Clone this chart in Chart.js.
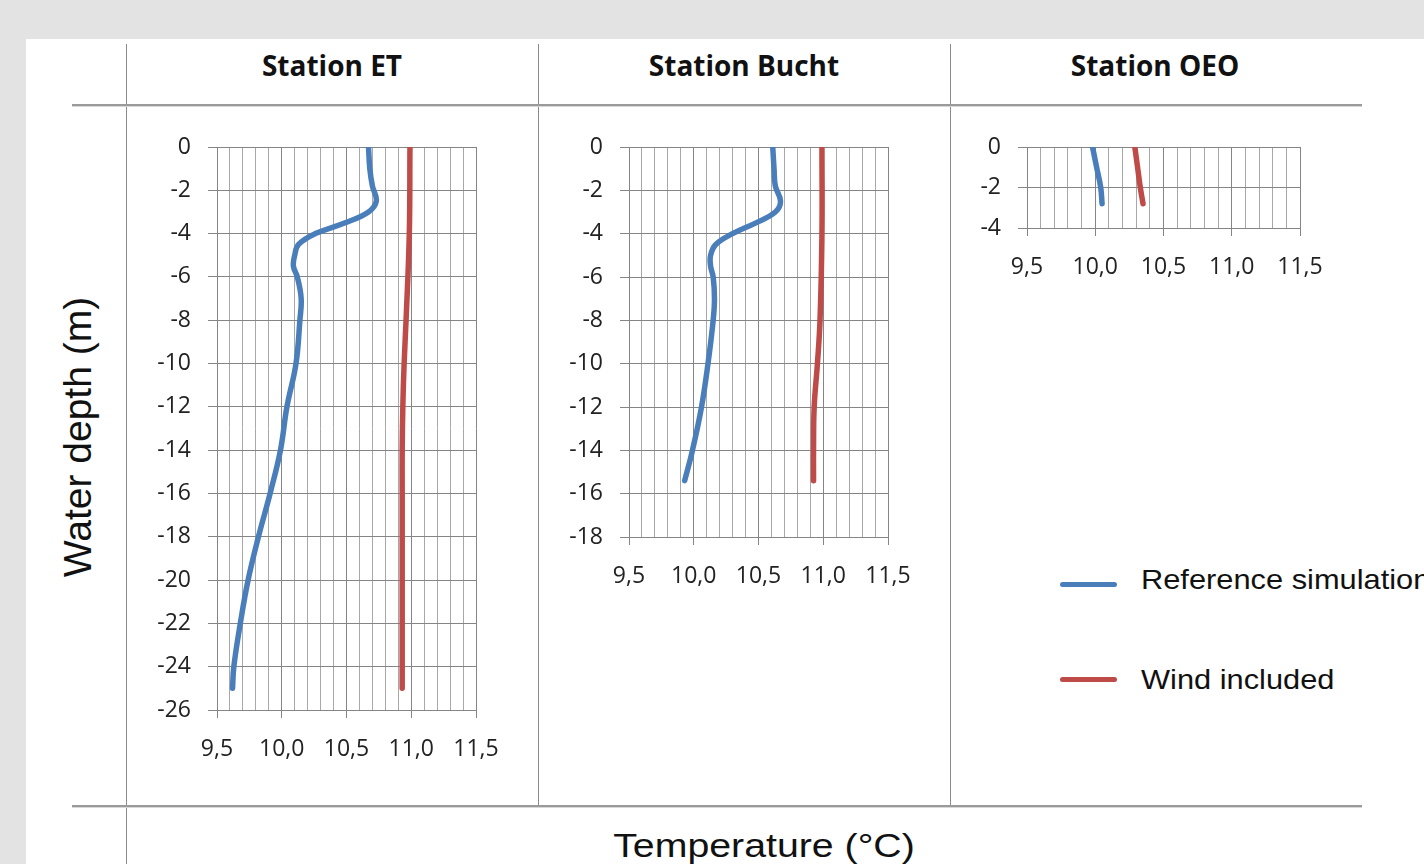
<!DOCTYPE html>
<html>
<head>
<meta charset="utf-8">
<script src="https://cdn.jsdelivr.net/npm/chart.js"></script>
<style>
  body { margin: 0; width: 1424px; height: 864px; background: #e3e3e3; overflow: hidden; position: relative; font-family: "Liberation Sans", Arial, sans-serif; }
  .panel { position: absolute; left: 26px; top: 39px; right: 0; bottom: 0; background: #fff; }
  .vline { position: absolute; width: 1px; background: #8a8a8a; }
  .hline { position: absolute; height: 2px; background: #9a9a9a; border-bottom: 1px solid #d8d8d8; }
  .title { position: absolute; top: 46px; width: 300px; text-align: center; font: bold 28px "Open Sans", sans-serif; color: #111; }
  .axisTitle { position: absolute; color: #111; white-space: nowrap; }
  .chartBox { position: absolute; }
  .legendItem { position: absolute; left: 1060px; height: 40px; white-space: nowrap; }
  .legendItem span.swatch { position: absolute; left: 0; width: 57px; height: 5px; border-radius: 3px; }
  .legendItem span.text { position: absolute; left: 81px; font-size: 28px; color: #111; transform-origin: left center; transform: scaleX(1.1); }
</style>
</head>
<body>
<div class="panel"></div>
<div class="vline" style="left:126px; top:44px; height:820px;"></div>
<div class="vline" style="left:538px; top:44px; height:762px;"></div>
<div class="vline" style="left:950px; top:44px; height:762px;"></div>
<div class="hline" style="left:72px; top:104px; width:1290px;"></div>
<div class="hline" style="left:72px; top:805px; width:1290px;"></div>

<div class="title" style="left:182px;">Station ET</div>
<div class="title" style="left:594px;">Station Bucht</div>
<div class="title" style="left:1005px;">Station OEO</div>

<div class="axisTitle" style="left:78px; top:437px; font-size:39px; transform: translate(-50%, -50%) rotate(-90deg);">Water depth (m)</div>
<div class="axisTitle" style="left:764px; top:846px; font-size:33px; transform: translate(-50%, -50%) scaleX(1.19);">Temperature (°C)</div>

<div class="legendItem" style="top:564px;"><span class="swatch" style="top:18px; background:#4a7ebb;"></span><span class="text" style="top:0;">Reference simulation</span></div>
<div class="legendItem" style="top:662px;"><span class="swatch" style="top:15px; background:#be4b48;"></span><span class="text" style="top:2px;">Wind included</span></div>

<script>
// x axis: temperature (°C), y axis: water depth (m)
const tempMin = 9.5;
const tempMax = 11.5;

// Station ET
const etRefDepth = [0, -1, -1.8, -2.5, -3, -3.5, -4, -4.5, -5, -5.5, -6, -7, -8, -10, -12, -14, -16, -18, -20, -22, -24, -25];
const etRefTemp = [10.67, 10.68, 10.70, 10.73, 10.67, 10.49, 10.26, 10.13, 10.10, 10.09, 10.12, 10.15, 10.14, 10.11, 10.04, 9.99, 9.91, 9.82, 9.74, 9.68, 9.63, 9.62];
const etWindDepth = [0, -4, -8, -10, -12, -14, -16, -20, -25];
const etWindTemp = [10.99, 10.985, 10.96, 10.945, 10.935, 10.93, 10.93, 10.93, 10.93];

// Station Bucht
const buchtRefDepth = [0, -1, -1.8, -2.5, -3, -3.5, -4, -4.5, -5, -5.5, -6, -7, -8, -10, -12, -14, -15.4];
const buchtRefTemp = [10.61, 10.62, 10.63, 10.67, 10.63, 10.48, 10.30, 10.17, 10.13, 10.13, 10.15, 10.16, 10.15, 10.11, 10.06, 9.99, 9.93];
const buchtWindDepth = [0, -4, -8, -10, -12, -14, -15.4];
const buchtWindTemp = [10.99, 10.99, 10.975, 10.955, 10.93, 10.925, 10.925];

// Station OEO
const oeoRefDepth = [0, -1, -2, -2.8];
const oeoRefTemp = [9.98, 10.01, 10.04, 10.05];
const oeoWindDepth = [0, -1, -2, -2.8];
const oeoWindTemp = [10.29, 10.31, 10.33, 10.35];

const blue = '#4a7ebb';
const red = '#be4b48';

const isMajor = (v) => Math.abs(v * 2 - Math.round(v * 2)) < 1e-6;
const fmt = (v) => v.toFixed(1).replace('.', ',');
const toPoints = (depth, temp) => depth.map((d, i) => ({ x: temp[i], y: d }));

const makeChart = (plotLeft, plotRight, plotBottom, depthMin, refDepth, refTemp, windDepth, windTemp) => {
  const yAxisW = 87;
  const xAxisH = 65;
  const padTop = 34;
  const padRight = 44;
  const top = 147 - padTop;
  const left = plotLeft - yAxisW;
  const width = plotRight - left + padRight;
  const height = plotBottom - top + xAxisH;

  const box = document.createElement('div');
  box.className = 'chartBox';
  box.style.left = left + 'px';
  box.style.top = top + 'px';
  const canvas = document.createElement('canvas');
  canvas.width = width;
  canvas.height = height;
  box.appendChild(canvas);
  document.body.appendChild(box);

  new Chart(canvas, {
    type: 'scatter',
    data: {
      datasets: [
        { label: 'Reference simulation', data: toPoints(refDepth, refTemp), borderColor: blue, backgroundColor: blue },
        { label: 'Wind included', data: toPoints(windDepth, windTemp), borderColor: red, backgroundColor: red },
      ],
    },
    options: {
      responsive: false,
      animation: false,
      layout: { padding: { top: padTop, right: padRight, left: 0, bottom: 0 } },
      datasets: {
        scatter: { showLine: true, pointRadius: 0, borderWidth: 5.5, tension: 0.4, borderCapStyle: 'round', borderJoinStyle: 'round' },
      },
      plugins: { legend: { display: false }, tooltip: { enabled: false } },
      scales: {
        x: {
          type: 'linear',
          min: tempMin,
          max: tempMax,
          afterFit: (scale) => { scale.height = xAxisH; },
          border: { color: '#858585', width: 1 },
          grid: {
            color: (ctx) => isMajor(ctx.tick.value) ? '#858585' : '#a8a8a8',
            tickColor: (ctx) => isMajor(ctx.tick.value) ? '#858585' : 'rgba(0,0,0,0)',
            tickLength: 8,
          },
          ticks: {
            stepSize: 0.1,
            maxTicksLimit: 100,
            autoSkip: false,
            maxRotation: 0,
            padding: 18,
            color: '#222',
            font: { family: 'Open Sans', size: 23 },
            callback: (v) => isMajor(v) ? fmt(v) : '',
          },
        },
        y: {
          type: 'linear',
          min: depthMin,
          max: 0,
          afterFit: (scale) => { scale.width = yAxisW; },
          border: { color: '#858585', width: 1 },
          grid: { color: '#858585', tickColor: '#858585', tickLength: 9 },
          ticks: {
            stepSize: 2,
            autoSkip: false,
            padding: 17,
            color: '#222',
            font: { family: 'Open Sans', size: 23 },
            callback: (v) => String(Math.round(v)),
          },
        },
      },
    },
  });
};

makeChart(217, 476, 710, -26, etRefDepth, etRefTemp, etWindDepth, etWindTemp);
makeChart(629, 888, 537, -18, buchtRefDepth, buchtRefTemp, buchtWindDepth, buchtWindTemp);
makeChart(1027, 1300, 228, -4, oeoRefDepth, oeoRefTemp, oeoWindDepth, oeoWindTemp);
</script>
</body>
</html>
